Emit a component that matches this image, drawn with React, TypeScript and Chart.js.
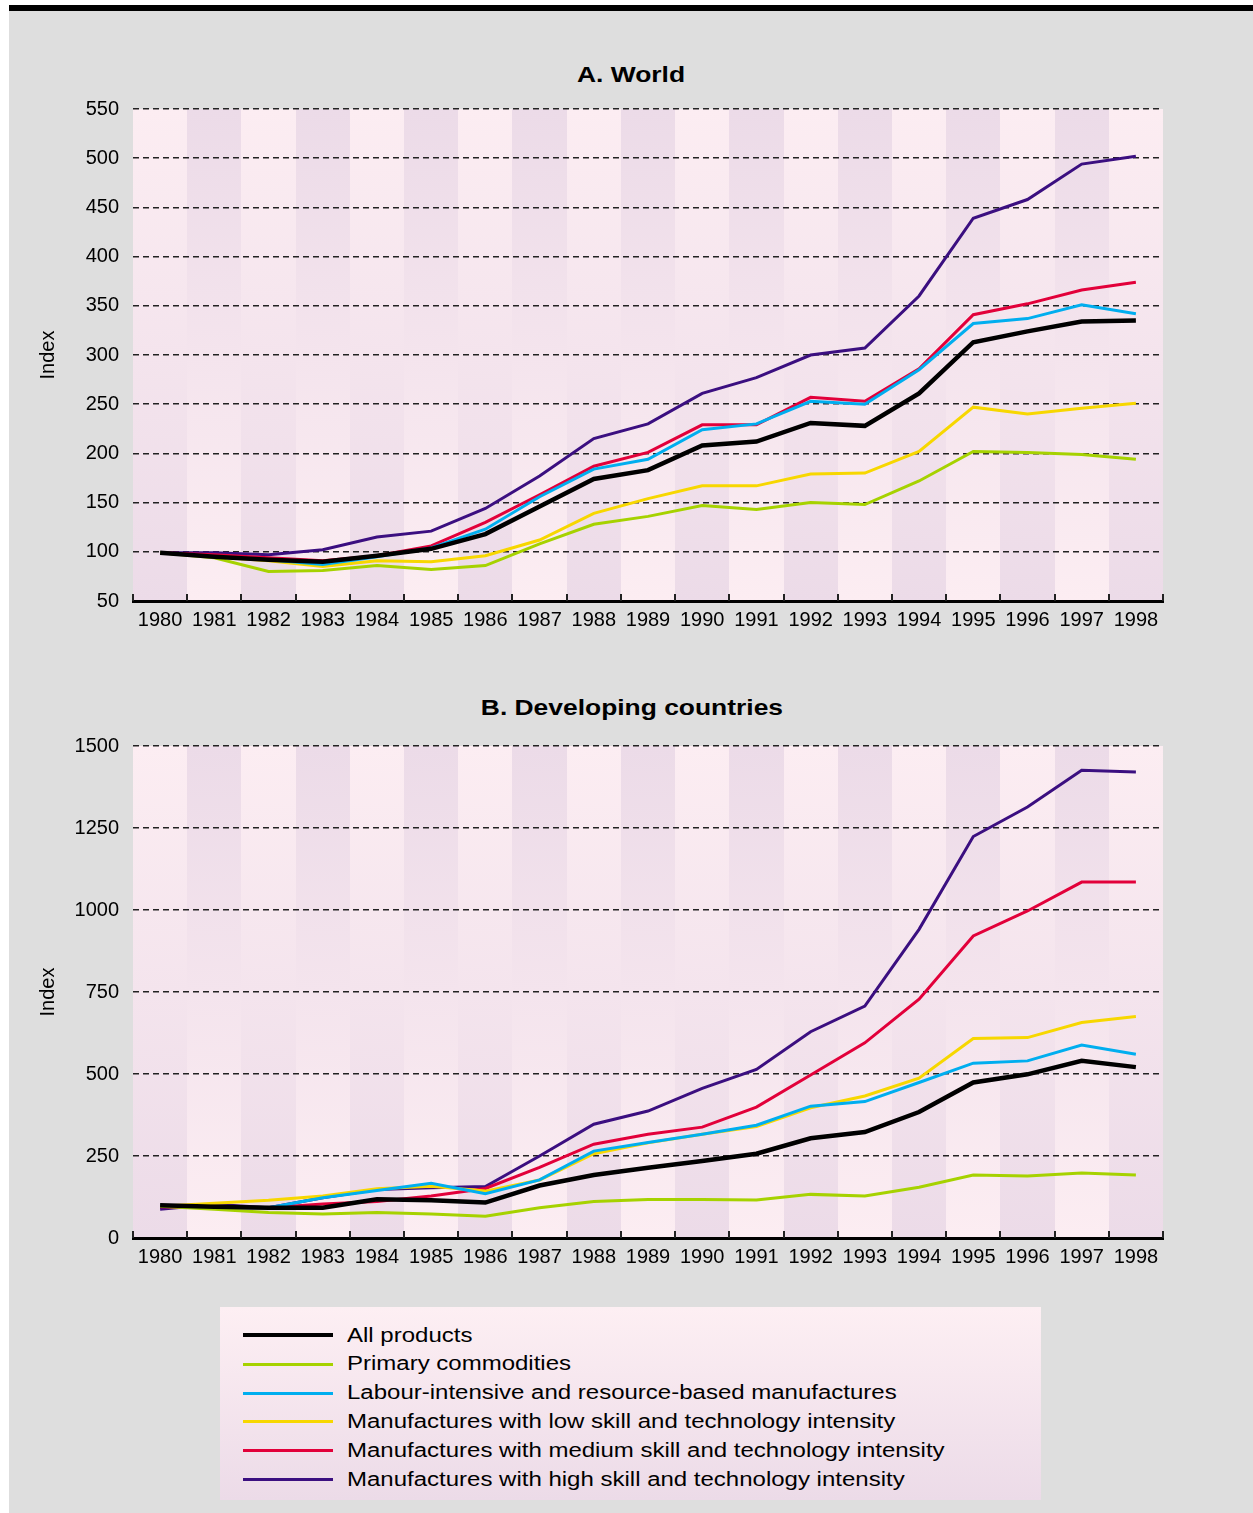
import React, { useEffect, useRef } from 'react';
import { Chart, registerables } from 'chart.js';

Chart.register(...registerables);

const FONT = '"Liberation Sans", Arial, Helvetica, sans-serif';

const years = ['1980', '1981', '1982', '1983', '1984', '1985', '1986', '1987', '1988', '1989',
  '1990', '1991', '1992', '1993', '1994', '1995', '1996', '1997', '1998'];

const seriesNames = [
  'All products',
  'Primary commodities',
  'Labour-intensive and resource-based manufactures',
  'Manufactures with low skill and technology intensity',
  'Manufactures with medium skill and technology intensity',
  'Manufactures with high skill and technology intensity',
];
const seriesColors = ['#000000', '#a6d200', '#00aeef', '#f7d700', '#e2003a', '#3b0f80'];
const seriesWidths = [4.5, 3, 3, 3, 3, 3];

// A. World
const worldAll = [99, 95, 92, 90, 96, 103, 118, 146, 174, 183, 208, 212, 231, 228, 261, 313, 324, 334, 335];
const worldPrimary = [99, 94, 80, 81, 86, 82, 86, 108, 128, 136, 147, 143, 150, 148, 172, 202, 201, 199, 194];
const worldLabour = [99, 95, 92, 87, 95, 104, 123, 156, 184, 194, 224, 230, 253, 250, 285, 332, 337, 351, 342];
const worldLow = [99, 95, 91, 85, 91, 90, 96, 112, 139, 154, 167, 167, 179, 180, 202, 247, 240, 246, 251];
const worldMedium = [99, 97, 94, 91, 96, 106, 130, 158, 187, 201, 229, 229, 257, 253, 286, 341, 352, 366, 374];
const worldHigh = [99, 99, 97, 102, 115, 121, 144, 177, 215, 230, 261, 277, 300, 307, 360, 439, 458, 494, 502];

// B. Developing countries
const devAll = [100, 95, 92, 92, 118, 115, 108, 160, 192, 214, 235, 257, 304, 323, 384, 474, 499, 540, 521];
const devPrimary = [97, 88, 78, 73, 78, 73, 66, 92, 111, 117, 117, 116, 133, 128, 155, 192, 189, 198, 192];
const devLabour = [98, 92, 92, 123, 145, 167, 135, 177, 265, 291, 316, 344, 402, 416, 474, 533, 540, 588, 560];
const devLow = [97, 106, 115, 128, 150, 158, 143, 177, 257, 290, 316, 340, 397, 433, 487, 608, 611, 657, 675];
const devMedium = [95, 92, 92, 104, 111, 128, 151, 215, 286, 316, 338, 399, 497, 595, 728, 921, 997, 1085, 1085];
const devHigh = [88, 103, 92, 123, 148, 153, 157, 250, 347, 387, 456, 514, 629, 707, 941, 1224, 1314, 1426, 1421];

const worldSeries = [worldAll, worldPrimary, worldLabour, worldLow, worldMedium, worldHigh];
const devSeries = [devAll, devPrimary, devLabour, devLow, devMedium, devHigh];

const worldAxis = { min: 50, max: 550, step: 50 };
const devAxis = { min: 0, max: 1500, step: 250 };

const PINK = '#fcedf2';
const MAUVE = '#ecdbe8';

const stripesPlugin = {
  id: 'stripes',
  beforeDraw(chart: any) {
    const { ctx, chartArea: a, scales } = chart;
    const x = scales.x;
    const n = chart.data.labels.length;
    const w = (a.right - a.left) / n;
    ctx.save();
    for (let i = 0; i < n; i++) {
      const l = Math.round(x.getPixelForValue(i) - w / 2);
      const r = Math.round(x.getPixelForValue(i) + w / 2);
      const g = ctx.createLinearGradient(0, a.top, 0, a.bottom);
      g.addColorStop(0, i % 2 === 0 ? PINK : MAUVE);
      g.addColorStop(1, i % 2 === 0 ? MAUVE : PINK);
      ctx.fillStyle = g;
      ctx.fillRect(l, a.top, r - l, a.bottom - a.top);
    }
    ctx.restore();
  },
  beforeDatasetsDraw(chart: any) {
    const { ctx, chartArea: a, scales } = chart;
    const x = scales.x;
    const n = chart.data.labels.length;
    const w = (a.right - a.left) / n;
    ctx.save();
    ctx.strokeStyle = '#222';
    ctx.lineWidth = 2;
    for (let i = 0; i <= n; i++) {
      const bx = Math.round(x.getPixelForValue(0) - w / 2 + i * w);
      ctx.beginPath();
      ctx.moveTo(bx, a.bottom);
      ctx.lineTo(bx, a.bottom - 7);
      ctx.stroke();
    }
    ctx.restore();
  },
};

function Panel({ series, axis }: { series: number[][]; axis: { min: number; max: number; step: number } }) {
  const ref = useRef<HTMLCanvasElement | null>(null);
  useEffect(() => {
    if (!ref.current) return;
    const chart = new Chart(ref.current, {
      type: 'line',
      data: {
        labels: years,
        datasets: series.map((d, i) => ({
          label: seriesNames[i],
          data: d,
          borderColor: seriesColors[i],
          backgroundColor: seriesColors[i],
          borderWidth: seriesWidths[i],
          pointRadius: 0,
          pointHoverRadius: 0,
          tension: 0,
          fill: false,
        })),
      },
      options: {
        animation: false,
        responsive: false,
        devicePixelRatio: 1,
        layout: { padding: { top: 20, right: 90, bottom: 10, left: 0 } },
        plugins: {
          legend: { display: false },
          tooltip: { enabled: false },
          title: { display: false },
        },
        scales: {
          x: {
            offset: true,
            grid: { display: false, drawTicks: false },
            border: { display: true, color: '#000', width: 3 },
            ticks: {
              color: '#000',
              font: { family: FONT, size: 20 },
              padding: 7,
              maxRotation: 0,
              autoSkip: false,
            },
          },
          y: {
            min: axis.min,
            max: axis.max,
            afterFit: (s: any) => { s.width = 123; },
            grid: { color: '#222', lineWidth: 1.5, drawTicks: false },
            border: { display: false, dash: [6, 4] },
            ticks: {
              stepSize: axis.step,
              color: '#000',
              font: { family: FONT, size: 20 },
              padding: 14,
              callback: (v: any) => String(v),
            },
            title: {
              display: true,
              text: 'Index',
              color: '#000',
              font: { family: FONT, size: 20 },
              padding: { top: 26, bottom: 0 },
            },
          },
        },
      },
      plugins: [stripesPlugin],
    } as any);
    return () => chart.destroy();
  }, [series, axis]);
  return <canvas ref={ref} width={1243} height={566} style={{ width: 1243, height: 566, display: 'block' }} />;
}

const titleStyle: React.CSSProperties = {
  position: 'absolute',
  left: 10,
  width: 1243,
  textAlign: 'center',
  fontFamily: FONT,
  fontWeight: 'bold',
  fontSize: 22,
  lineHeight: '28px',
  color: '#000',
};

export default function App() {
  return (
    <div style={{ position: 'absolute', left: 0, top: 0, width: 1253, height: 1513, background: '#fff', overflow: 'hidden' }}>
      <div style={{ position: 'absolute', left: 9, top: 5, width: 1244, height: 6, background: '#000' }} />
      <div style={{ position: 'absolute', left: 9, top: 11, width: 1244, height: 1502, background: '#dedede' }} />
      <div style={{ ...titleStyle, top: 61 }}>
        <span style={{ display: 'inline-block', transform: 'scaleX(1.2)' }}>A. World</span>
      </div>
      <div style={{ position: 'absolute', left: 10, top: 83 }}>
        <Panel series={worldSeries} axis={worldAxis} />
      </div>
      <div style={{ ...titleStyle, top: 694 }}>
        <span style={{ display: 'inline-block', transform: 'scaleX(1.2)' }}>B. Developing countries</span>
      </div>
      <div style={{ position: 'absolute', left: 10, top: 720 }}>
        <Panel series={devSeries} axis={devAxis} />
      </div>
      <div
        style={{
          position: 'absolute',
          left: 220,
          top: 1307,
          width: 821,
          height: 193,
          background: 'linear-gradient(to bottom, #fdeff3, #ecdbe8)',
        }}
      >
        {seriesNames.map((name, i) => (
          <div
            key={name}
            style={{ position: 'absolute', left: 0, top: 13.6 + i * 28.8, height: 28.8, width: 821 }}
          >
            <div
              style={{
                position: 'absolute',
                left: 23,
                width: 90,
                top: 14.4 - seriesWidths[i] / 2 + 0.5,
                height: i === 0 ? 4 : 3,
                background: seriesColors[i],
              }}
            />
            <div
              style={{
                position: 'absolute',
                left: 127,
                top: 0,
                lineHeight: '28.8px',
                fontFamily: FONT,
                fontSize: 20,
                color: '#000',
                whiteSpace: 'nowrap',
                transform: 'scaleX(1.2)',
                transformOrigin: 'left center',
              }}
            >
              {name}
            </div>
          </div>
        ))}
      </div>
    </div>
  );
}
